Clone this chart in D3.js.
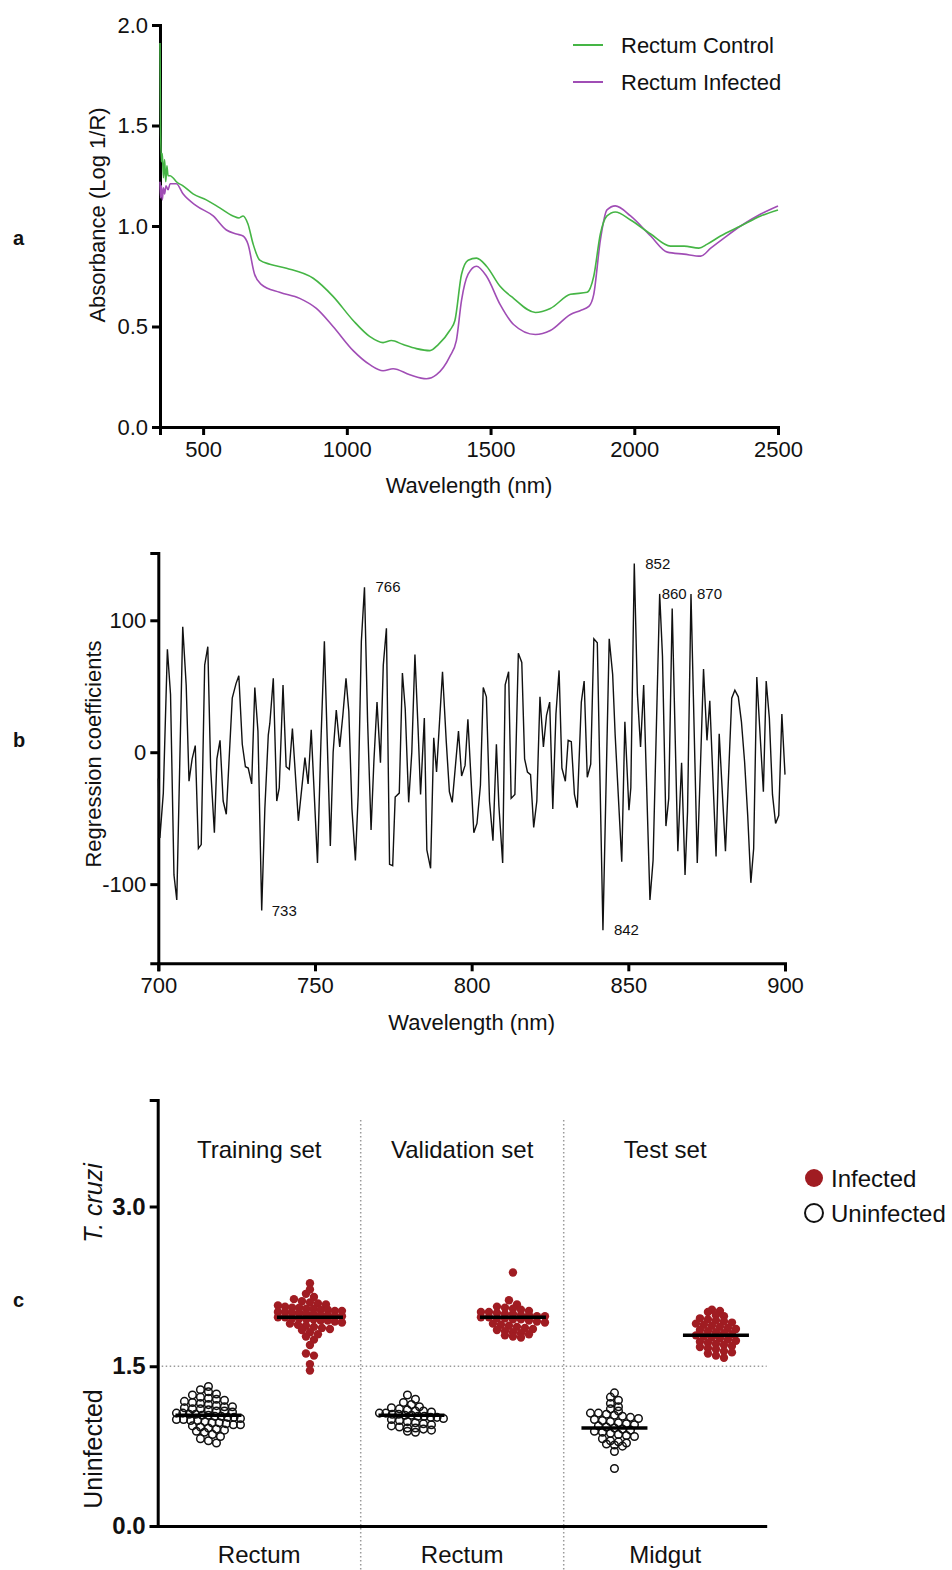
<!DOCTYPE html>
<html>
<head>
<meta charset="utf-8">
<script src="https://cdn.jsdelivr.net/npm/d3@7"></script>
<style>
body { margin: 0; background: #fff; }
svg text { font-family: "Liberation Sans", Arial, sans-serif; }
</style>
</head>
<body>
<div id="chart"></div>
<script>
// ---- panel a : mean spectra ----
var controlWl = [350, 352, 355, 358, 362, 366, 370, 374, 378, 385, 395, 407, 430, 465, 511, 558, 604, 625, 639, 656,
    674, 697, 732, 790, 883, 952, 1022, 1080, 1126, 1155, 1196, 1242, 1289, 1318, 1358, 1376, 1399, 1422, 1451, 1486,
    1533, 1580, 1656, 1708, 1778, 1836, 1859, 1882, 1905, 1934, 1987, 2057, 2126, 2173, 2225, 2254, 2300, 2370, 2440, 2500];
var controlAbs = [1.91, 1.50, 1.32, 1.36, 1.24, 1.33, 1.22, 1.30, 1.25, 1.25, 1.24, 1.22, 1.20, 1.16, 1.13, 1.09, 1.05, 1.04, 1.05, 1.01,
    0.91, 0.83, 0.81, 0.79, 0.74, 0.65, 0.53, 0.45, 0.42, 0.43, 0.41, 0.39, 0.38, 0.41, 0.48, 0.53, 0.76, 0.83, 0.84, 0.80,
    0.70, 0.64, 0.57, 0.59, 0.66, 0.67, 0.75, 0.96, 1.05, 1.07, 1.03, 0.96, 0.90, 0.90, 0.89, 0.91, 0.95, 1.00, 1.05, 1.08];
var infectedWl = [350, 352, 355, 358, 362, 366, 371, 378, 385, 407, 430, 477, 535, 581, 616, 639, 656, 679, 702, 766,
    836, 894, 952, 1022, 1080, 1126, 1161, 1219, 1277, 1312, 1358, 1381, 1399, 1422, 1451, 1486, 1533, 1580, 1656, 1708,
    1778, 1813, 1842, 1859, 1882, 1905, 1934, 1987, 2057, 2115, 2173, 2231, 2266, 2312, 2370, 2440, 2500];
var infectedAbs = [1.22, 1.14, 1.20, 1.13, 1.19, 1.16, 1.20, 1.18, 1.21, 1.21, 1.16, 1.10, 1.05, 0.98, 0.96, 0.95, 0.91, 0.76, 0.71, 0.67,
    0.64, 0.59, 0.50, 0.38, 0.31, 0.28, 0.29, 0.26, 0.24, 0.26, 0.35, 0.43, 0.63, 0.76, 0.80, 0.75, 0.61, 0.51, 0.46, 0.48,
    0.56, 0.58, 0.60, 0.66, 0.93, 1.08, 1.10, 1.05, 0.95, 0.87, 0.86, 0.85, 0.89, 0.94, 1.00, 1.06, 1.10];
var spectraNames = ["Rectum Control", "Rectum Infected"];
var spectraColors = ["#45b545", "#a04db5"];

// ---- panel b : regression coefficients ----
var coefWl = [700, 700.5, 701.6, 702.9, 703.9, 705, 705.9, 707.8, 708.9, 709.8, 710.8, 711.8, 712.8, 713.7, 714.8, 715.8, 716.7, 717.9,
    718.7, 719.7, 720.7, 721.7, 723.6, 724.8, 725.7, 726.8, 727.8, 728.7, 729.8, 730.8, 731.8, 733, 734, 735.1, 735.6, 736.7,
    737.8, 738.6, 739.8, 740.8, 741.8, 742.8, 744.7, 745.8, 746.8, 747.8, 748.8, 750.8,
    751.9, 753, 753.8, 754.9, 755.8, 756.8, 757.9, 758.9, 759.9, 760.8, 761.8, 762.9, 763.8, 764.8, 765.8, 766.8, 767.9,
    768.8, 769.8, 770.9, 771.8, 772.8, 773.8, 774.8, 775.6, 776.9, 777.9, 778.8, 779.9, 780.9, 781.9, 782.9, 783.7, 784.9,
    785.7, 786.9, 787.9, 788.8, 790.7, 791.9, 792.9, 793.8, 795.8, 796.8, 797.9, 798.8,
    800.7, 801.7, 802.8, 803.7, 804.7, 805.7, 806.8, 807.9, 808.7, 809.9, 810.7, 811.8, 812.6, 813.8, 814.9, 816, 816.9,
    817.8, 818.8, 819.8, 820.8, 821.8, 822.9, 823.9, 824.9, 825.9, 826.9, 827.9, 828.8, 829.9, 830.8, 831.8, 832.8, 833.7,
    835, 835.9, 836.9, 838, 839, 840.1, 841.9, 843.9, 845, 845.8, 847.9, 848.9,
    850.2, 850.8, 851.9, 852.9, 853.9, 854.9, 856.9, 857.9, 860, 860.9, 862, 862.9, 864, 865.8, 867, 868.1, 868.9, 870,
    872, 873, 874, 875.1, 876, 878, 879, 881, 883, 884, 885.1, 886.1, 887.1, 888.1, 889.1, 890, 891, 893.1, 894, 895,
    896, 897, 898, 899, 900];
var coefVal = [-20, -65, -31, 78, 44, -93, -112, 95, 51, -22, -5, 5, -73, -70, 66, 80, -12, -61,
    -5, 9, -37, -47, 41, 52, 58, 6, -11, -12, -24, 49, 16, -120, -43, 13, 22, 56,
    -37, -27, 51, -11, -13, 18, -52, -27, -4, -24, 17, -84,
    8, 84, 18, -71, 0, 32, 4, 28, 56, 31, -43, -82, -32, 84, 125, 23, -59,
    -7, 38, -8, 66, 94, -85, -86, -34, -31, 60, 33, -38, 0, 74, 18, -32, 26,
    -74, -88, 11, -15, 61, 8, -30, -38, 16, -18, -10, 25,
    -61, -54, -25, 49, 42, -37, -67, 6, -41, -84, 51, 61, -35, -32, 75, 68, -5,
    -15, -17, -57, -37, 42, 4, 28, 38, -43, 29, 62, -12, -22, 9, 8, -32, -42,
    38, 54, -19, -9, 86, 83, -135, 86, 59, 13, -83, 23,
    -44, -27, 143, 44, 4, 51, -112, -82, 120, 73, -56, -35, 109, -75, -8, -93, -45, 120,
    -84, -12, 63, 9, 39, -79, 14, -75, 41, 47, 42, 23, -7, -48, -99, -73, 57, -30, 54, 26,
    -32, -54, -48, 29, -17];
var peakLabels = ["733", "766", "842", "852", "860", "870"];
var peakWl = [733, 765.8, 841.9, 851.9, 860, 870];
var peakVal = [-120, 125, -135, 143, 120, 120];

// ---- panel c : PLS predictions ----
var groupNames = ["TrainU", "TrainI", "ValU", "ValI", "TestU", "TestI"];
var sectionNames = ["Training set", "Validation set", "Test set"];
var tissueNames = ["Rectum", "Rectum", "Midgut"];
var groupMeans = [1.04, 1.96, 1.04, 1.96, 0.92, 1.79];
var trainUninf = [1.31, 1.28, 1.26, 1.24, 1.23, 1.21, 1.20, 1.19, 1.18, 1.17, 1.16, 1.15, 1.14, 1.13, 1.12, 1.12, 1.11, 1.10, 1.10,
    1.09, 1.08, 1.08, 1.07, 1.06, 1.06, 1.05, 1.05, 1.04, 1.04, 1.03, 1.03, 1.02, 1.02, 1.01, 1.00, 1.00, 0.99, 0.99, 0.98, 0.97,
    0.97, 0.96, 0.95, 0.95, 0.94, 0.93, 0.92, 0.91, 0.90, 0.89, 0.88, 0.86, 0.84, 0.82, 0.80, 0.78];
var trainInf = [2.28, 2.22, 2.18, 2.15, 2.13, 2.11, 2.10, 2.09, 2.08, 2.07, 2.06, 2.05, 2.05, 2.04, 2.04, 2.03, 2.03, 2.02, 2.02,
    2.01, 2.01, 2.00, 2.00, 1.99, 1.99, 1.98, 1.98, 1.97, 1.97, 1.96, 1.96, 1.95, 1.95, 1.94, 1.94, 1.93, 1.93, 1.92, 1.91, 1.90,
    1.89, 1.88, 1.87, 1.86, 1.85, 1.84, 1.82, 1.80, 1.78, 1.75, 1.70, 1.62, 1.60, 1.52, 1.46];
var valUninf = [1.23, 1.19, 1.16, 1.14, 1.12, 1.11, 1.10, 1.09, 1.08, 1.08, 1.07, 1.06, 1.06, 1.05, 1.05, 1.04, 1.04, 1.03,
    1.03, 1.02, 1.02, 1.01, 1.00, 0.99, 0.98, 0.97, 0.96, 0.95, 0.94, 0.93, 0.92, 0.92, 0.91, 0.90, 0.89, 0.88];
var valInf = [2.38, 2.12, 2.08, 2.06, 2.05, 2.04, 2.03, 2.02, 2.01, 2.01, 2.00, 1.99, 1.99, 1.98, 1.98, 1.97, 1.97, 1.96, 1.96,
    1.95, 1.95, 1.94, 1.94, 1.93, 1.92, 1.91, 1.90, 1.89, 1.88, 1.87, 1.86, 1.85, 1.84, 1.83, 1.82, 1.81, 1.80, 1.79, 1.78, 1.77];
var testUninf = [1.25, 1.21, 1.18, 1.15, 1.12, 1.10, 1.08, 1.06, 1.06, 1.05, 1.04, 1.03, 1.02, 1.01, 1.00, 0.99, 0.98, 0.97,
    0.96, 0.95, 0.94, 0.93, 0.92, 0.91, 0.90, 0.89, 0.88, 0.87, 0.86, 0.85, 0.84, 0.82, 0.80, 0.79, 0.78, 0.77, 0.76, 0.75, 0.70, 0.54];
var testInf = [2.03, 2.02, 2.01, 1.98, 1.97, 1.95, 1.94, 1.93, 1.92, 1.91, 1.90, 1.89, 1.88, 1.87, 1.86, 1.85, 1.84, 1.83, 1.82,
    1.81, 1.80, 1.79, 1.78, 1.77, 1.76, 1.75, 1.74, 1.73, 1.72, 1.71, 1.70, 1.69, 1.68, 1.67, 1.66, 1.64, 1.63, 1.62, 1.60, 1.58];
var groupValues = [trainUninf, trainInf, valUninf, valInf, testUninf, testInf];
var legendC = ["Infected", "Uninfected"];
var infColor = "#a01c22";

var font = "'Liberation Sans', Arial, sans-serif";
var plain = function (d) { return String(d); };

var svg = d3.select("#chart").append("svg")
    .attr("width", 952)
    .attr("height", 1570);

function styleAxis(g, size, weight, sw) {
    g.attr("font-size", size).attr("font-family", font).attr("font-weight", weight || "normal");
    g.selectAll("path.domain").attr("stroke", "#000").attr("stroke-width", sw);
    g.selectAll(".tick line").attr("stroke", "#000").attr("stroke-width", sw);
    g.selectAll(".tick text").attr("fill", "#111");
}

function panelLetter(t, y) {
    svg.append("text").attr("x", 13).attr("y", y).text(t)
        .attr("font-size", 20).attr("font-weight", "bold").attr("fill", "#111");
}

// ================= panel a =================
var xA = d3.scaleLinear().domain([350, 2500]).range([160, 778]);
var yA = d3.scaleLinear().domain([0, 2]).range([427, 25]);

svg.append("g")
    .attr("transform", "translate(0,427)")
    .call(d3.axisBottom(xA).tickValues([500, 1000, 1500, 2000, 2500]).tickFormat(plain).tickSizeOuter(0).tickSize(8).tickPadding(6))
    .call(styleAxis, 22, "normal", 3);

svg.append("g")
    .attr("transform", "translate(160,0)")
    .call(d3.axisLeft(yA).tickValues([0, 0.5, 1, 1.5, 2]).tickFormat(d3.format(".1f")).tickSizeOuter(0).tickSize(8).tickPadding(4))
    .call(styleAxis, 22, "normal", 3);

var lineA = d3.line()
    .x(function (d) { return xA(d[0]); })
    .y(function (d) { return yA(d[1]); })
    .curve(d3.curveMonotoneX);

var spectra = [d3.zip(controlWl, controlAbs), d3.zip(infectedWl, infectedAbs)];
// infected first so control sits on top
[1, 0].forEach(function (i) {
    svg.append("path")
        .datum(spectra[i])
        .attr("d", lineA)
        .attr("fill", "none")
        .attr("stroke", spectraColors[i])
        .attr("stroke-width", 1.6);
});

spectraNames.forEach(function (n, i) {
    var ly = 45 + i * 37;
    svg.append("line").attr("x1", 573).attr("x2", 603).attr("y1", ly).attr("y2", ly)
        .attr("stroke", spectraColors[i]).attr("stroke-width", 2);
    svg.append("text").attr("x", 621).attr("y", ly + 8).text(n)
        .attr("font-size", 22).attr("fill", "#111");
});

svg.append("text")
    .attr("x", xA(1425)).attr("y", 493)
    .attr("text-anchor", "middle").attr("font-size", 22).attr("fill", "#111")
    .text("Wavelength (nm)");
svg.append("text")
    .attr("transform", "translate(105,215) rotate(-90)")
    .attr("text-anchor", "middle").attr("font-size", 22).attr("fill", "#111")
    .text("Absorbance (Log 1/R)");
panelLetter("a", 245);

// ================= panel b =================
var xB = d3.scaleLinear().domain([700, 900]).range([158.3, 785]);
var yB = d3.scaleLinear().domain([-160, 151]).range([963.3, 553]);

svg.append("g")
    .attr("transform", "translate(0,963.3)")
    .call(d3.axisBottom(xB).tickValues([700, 750, 800, 850, 900]).tickFormat(plain).tickSizeOuter(0).tickSize(8).tickPadding(6))
    .call(styleAxis, 22, "normal", 3);

svg.append("g")
    .attr("transform", "translate(158.3,0)")
    .call(d3.axisLeft(yB).tickValues([-100, 0, 100]).tickFormat(plain).tickSizeOuter(0).tickSize(8).tickPadding(4))
    .call(styleAxis, 22, "normal", 3);

var lineB = d3.line()
    .x(function (d) { return xB(d[0]); })
    .y(function (d) { return yB(d[1]); });

svg.append("path")
    .datum(d3.zip(coefWl, coefVal))
    .attr("d", lineB)
    .attr("fill", "none")
    .attr("stroke", "#111")
    .attr("stroke-width", 1.4)
    .attr("stroke-linejoin", "miter");

var peakDx = [10, 11, 11, 11, 2, 6];
peakLabels.forEach(function (t, i) {
    svg.append("text")
        .attr("x", xB(peakWl[i]) + peakDx[i])
        .attr("y", yB(peakVal[i]) + 5)
        .attr("font-size", 15).attr("fill", "#111")
        .text(t);
});

svg.append("text")
    .attr("x", xB(800)).attr("y", 1030)
    .attr("text-anchor", "middle").attr("font-size", 22).attr("fill", "#111")
    .text("Wavelength (nm)");
svg.append("text")
    .attr("transform", "translate(101,754) rotate(-90)")
    .attr("text-anchor", "middle").attr("font-size", 22).attr("fill", "#111")
    .text("Regression coefficients");
panelLetter("b", 747);

// ================= panel c =================
var xC = d3.scaleBand().domain(groupNames).range([157.7, 766.7]);
var yC = d3.scaleLinear().domain([0, 4]).range([1526, 1100]);

// dotted guides
svg.append("line")
    .attr("x1", 157.7).attr("x2", 766.7).attr("y1", yC(1.5)).attr("y2", yC(1.5))
    .attr("stroke", "#9a9a9a").attr("stroke-width", 1.5).attr("stroke-dasharray", "1.5,2.5");
[2, 4].forEach(function (k) {
    var x = xC(groupNames[k]);
    svg.append("line")
        .attr("x1", x).attr("x2", x).attr("y1", 1120).attr("y2", 1570)
        .attr("stroke", "#9a9a9a").attr("stroke-width", 1.5).attr("stroke-dasharray", "1.5,2.5");
});

svg.append("g")
    .attr("transform", "translate(0,1526)")
    .call(d3.axisBottom(xC).tickSize(0).tickSizeOuter(0).tickFormat(""))
    .call(styleAxis, 24, "normal", 3);

svg.append("g")
    .attr("transform", "translate(157.7,0)")
    .call(d3.axisLeft(yC).tickValues([0, 1.5, 3]).tickFormat(d3.format(".1f")).tickSizeOuter(0).tickSize(8).tickPadding(4))
    .call(styleAxis, 24, "bold", 3);

// scatter layout in the GraphPad way: points binned into rows, each row spread symmetrically
function rows(vals, cx, rowH, step, half) {
    var out = [];
    var bins = d3.groups(vals, function (v) { return Math.round(yC(v) / rowH); });
    bins.forEach(function (b) {
        var n = b[1].length;
        var s = Math.min(step, n > 1 ? (2 * half) / (n - 1) : step);
        b[1].forEach(function (v, j) {
            out.push({ x: cx + (j - (n - 1) / 2) * s, y: yC(v), v: v });
        });
    });
    return out;
}

groupNames.forEach(function (g, i) {
    var cx = xC(g) + xC.bandwidth() / 2;
    var infected = i % 2 === 1;
    var pts = rows(groupValues[i], cx, 6, 8, 32);
    svg.append("g").selectAll("circle")
        .data(pts)
        .enter()
        .append("circle")
        .attr("cx", function (d) { return d.x; })
        .attr("cy", function (d) { return d.y; })
        .attr("r", infected ? 4.2 : 3.8)
        .attr("fill", infected ? infColor : "none")
        .attr("stroke", infected ? "none" : "#111")
        .attr("stroke-width", 1.5);
    svg.append("line")
        .attr("x1", cx - 33).attr("x2", cx + 33)
        .attr("y1", yC(groupMeans[i])).attr("y2", yC(groupMeans[i]))
        .attr("stroke", "#000").attr("stroke-width", 3.5);
});

sectionNames.forEach(function (s, j) {
    var x0 = xC(groupNames[2 * j]);
    var mid = x0 + xC.bandwidth();
    svg.append("text")
        .attr("x", mid).attr("y", 1158)
        .attr("text-anchor", "middle").attr("font-size", 24).attr("fill", "#111")
        .text(s);
    svg.append("text")
        .attr("x", mid).attr("y", 1563)
        .attr("text-anchor", "middle").attr("font-size", 24).attr("fill", "#111")
        .text(tissueNames[j]);
});

svg.append("text")
    .attr("transform", "translate(102,1203) rotate(-90)")
    .attr("text-anchor", "middle").attr("font-size", 25).attr("font-style", "italic").attr("fill", "#111")
    .text("T. cruzi");
svg.append("text")
    .attr("transform", "translate(102,1449) rotate(-90)")
    .attr("text-anchor", "middle").attr("font-size", 25).attr("fill", "#111")
    .text("Uninfected");

legendC.forEach(function (n, i) {
    var ly = 1178 + i * 35;
    svg.append("circle")
        .attr("cx", 814).attr("cy", ly).attr("r", 9)
        .attr("fill", i === 0 ? infColor : "#fff")
        .attr("stroke", i === 0 ? "none" : "#111")
        .attr("stroke-width", 2);
    svg.append("text").attr("x", 831).attr("y", ly + 8.5).text(n)
        .attr("font-size", 24).attr("fill", "#111");
});
panelLetter("c", 1307);
</script>
</body>
</html>
